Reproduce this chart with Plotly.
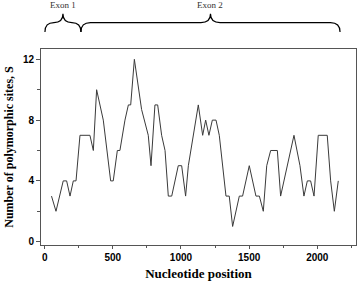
import plotly.graph_objects as go

positions = [50, 83, 136, 161, 186, 210, 230, 259, 332, 357, 381, 430, 484, 503, 533, 552,
             589, 614, 631, 658, 711, 760, 780, 809, 829, 858, 883, 907, 932, 980, 1005,
             1034, 1054, 1110, 1127, 1159, 1181, 1205, 1230, 1257, 1281, 1330, 1354, 1379,
             1428, 1452, 1501, 1550, 1575, 1604, 1629, 1658, 1707, 1731, 1756, 1829, 1873,
             1902, 1927, 1951, 1976, 2007, 2073, 2098, 2125, 2154]
sites = [3, 2, 4, 4, 3, 4, 4, 7, 7, 6, 10, 8, 4, 4, 6, 6,
         8, 9, 9, 12, 8.7, 7, 5, 9, 9, 7, 6, 3, 3, 5, 5,
         3, 5, 8, 9, 7, 8, 7, 8, 8, 7, 3, 3, 1,
         3, 3, 5, 3, 3, 2, 5, 6, 6, 3, 4, 7, 5,
         3, 4, 4, 3, 7, 7, 4, 2, 4]

exon_names = ["Exon 1", "Exon 2"]
exon_starts = [2, 266]
exon_ends = [266, 2167]

x_ticks = [0, 500, 1000, 1500, 2000]
y_ticks = [0, 4, 8, 12]

fig = go.Figure()
fig.add_trace(go.Scatter(x=positions, y=sites, mode="lines",
                         line=dict(color="#3a3a3a", width=1), showlegend=False))

yb, ym, yt = 1.087, 1.135, 1.18
shapes = []
annotations = []
for name, s, e in zip(exon_names, exon_starts, exon_ends):
    m = (s + e) / 2
    w = min(70, (e - s) / 4)
    path = (f"M {s},{yb} Q {s},{ym} {s + w},{ym} L {m - w},{ym} "
            f"Q {m},{ym} {m},{yt} Q {m},{ym} {m + w},{ym} L {e - w},{ym} "
            f"Q {e},{ym} {e},{yb}")
    shapes.append(dict(type="path", path=path, xref="x", yref="paper",
                       line=dict(color="black", width=1.2)))
    annotations.append(dict(x=m, y=1.226, xref="x", yref="paper", text=name,
                            showarrow=False, font=dict(family="Liberation Serif", size=9, color="#333"),
                            yanchor="middle"))

fig.update_layout(
    width=359, height=281,
    margin=dict(l=41, r=3, t=49, b=36),
    plot_bgcolor="white", paper_bgcolor="white",
    shapes=shapes, annotations=annotations,
    xaxis=dict(range=[-27, 2284], tickvals=x_ticks, ticks="outside", ticklen=3,
               showline=True, linecolor="#555", linewidth=1, mirror=True,
               showgrid=False, zeroline=False, automargin=False,
               minor=dict(tickvals=[250, 750, 1250, 1750, 2250], ticks="outside", ticklen=2, tickcolor="#555"),
               tickfont=dict(family="Liberation Sans", size=10, color="black", weight="bold"),
               tickcolor="#555",
               title=dict(text="Nucleotide position", standoff=6,
                          font=dict(family="Liberation Serif", size=13, color="black", weight="bold"))),
    yaxis=dict(range=[-0.22, 12.68], tickvals=y_ticks, ticks="outside", ticklen=4,
               showline=True, linecolor="#555", linewidth=1, mirror=True,
               showgrid=False, zeroline=False, tickcolor="#555", automargin=False,
               minor=dict(tickvals=[2, 6, 10], ticks="outside", ticklen=3, tickcolor="#555"),
               tickfont=dict(family="Liberation Sans", size=10, color="black", weight="bold"),
               title=dict(text="Number of polymorphic sites, S", standoff=6,
                          font=dict(family="Liberation Serif", size=12, color="black", weight="bold"))),
)

fig.write_html("out.html", config={"displayModeBar": False},
               post_script="document.body.style.margin='0';document.body.style.overflow='hidden';")
